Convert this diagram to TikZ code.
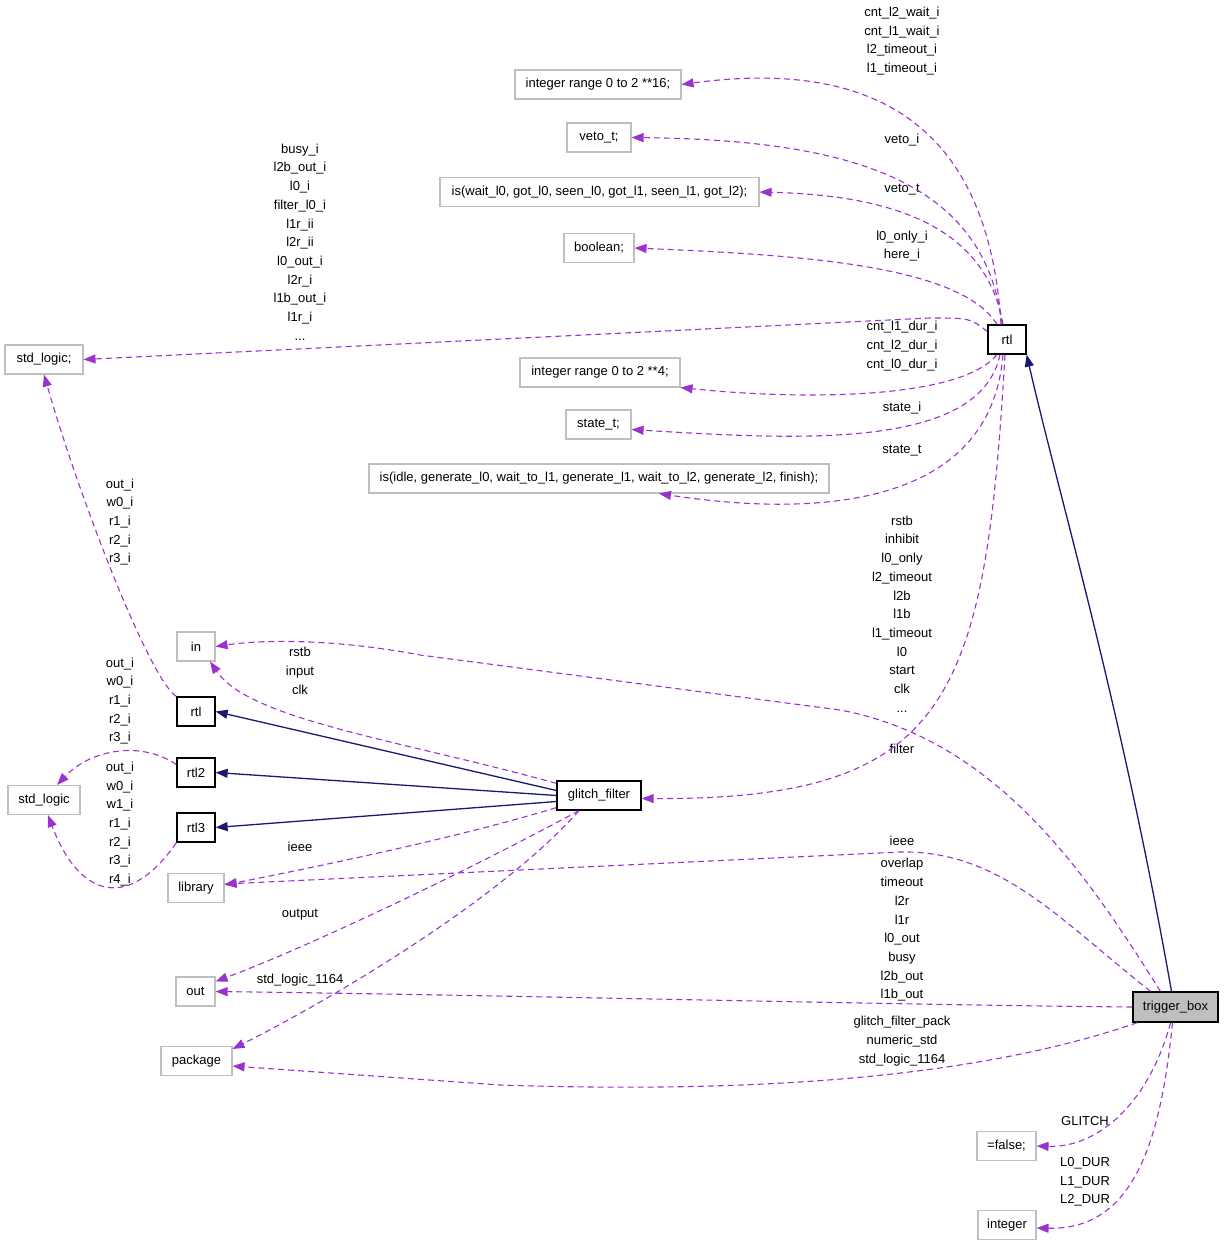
\documentclass[tikz,border=0pt]{standalone}
\usepackage{fontspec}
\setmainfont{Liberation Sans}
\usetikzlibrary{arrows.meta,calc}
\definecolor{dep}{HTML}{9A32CD}
\definecolor{inh}{HTML}{191970}
\definecolor{bx}{HTML}{BFBFBF}
\begin{document}
\begin{tikzpicture}[x=1pt,y=-1pt,
  every node/.style={font=\fontsize{13}{18.7}\selectfont},
  tbox/.style={draw=bx,line width=1.1pt,inner sep=0pt,minimum height=29pt},
  kbox/.style={draw=black,line width=1.3pt,inner sep=0pt,minimum height=29pt},
  lab/.style={align=center,inner sep=0pt},
  uses/.style={draw=dep,dash pattern=on 6pt off 4pt,line width=1.1pt,-{Triangle[length=12pt,width=9pt]}},
  isa/.style={draw=inh,line width=1.3pt,-{Triangle[length=12pt,width=9pt]}}]
\useasboundingbox (0,0) rectangle (1224,1247);
% nodes
\node[tbox,minimum width=166pt] (ir16) at (598,84.5) {integer range 0 to 2 **16;};
\node[tbox,minimum width=64pt] (veto) at (599,137.5) {veto\_t;};
\node[tbox,minimum width=319pt] (iswait) at (599.5,192) {is(wait\_l0, got\_l0, seen\_l0, got\_l1, seen\_l1, got\_l2);};
\node[tbox,minimum width=70pt] (bool) at (599,248) {boolean;};
\node[tbox,minimum width=78pt] (slA) at (44,359.5) {std\_logic;};
\node[kbox,minimum width=38pt] (rtlT) at (1007,339.5) {rtl};
\node[tbox,minimum width=160pt] (ir4) at (600,372.5) {integer range 0 to 2 **4;};
\node[tbox,minimum width=65pt] (state) at (598.5,424.5) {state\_t;};
\node[tbox,minimum width=460pt] (isidle) at (599,478.5) {is(idle, generate\_l0, wait\_to\_l1, generate\_l1, wait\_to\_l2, generate\_l2, finish);};
\node[tbox,minimum width=38pt] (in) at (196,646.5) {in};
\node[kbox,minimum width=38pt] (rtlL) at (196,711.5) {rtl};
\node[kbox,minimum width=38pt] (rtl2) at (196,772.5) {rtl2};
\node[kbox,minimum width=38pt] (rtl3) at (196,827.5) {rtl3};
\node[tbox,minimum width=72pt] (slB) at (44,800) {std\_logic};
\node[kbox,minimum width=84pt] (gf) at (599,795.5) {glitch\_filter};
\node[tbox,minimum width=56pt] (lib) at (196,888) {library};
\node[tbox,minimum width=39pt] (out) at (195.5,991.5) {out};
\node[tbox,minimum width=71pt] (pkg) at (196.5,1061) {package};
\node[draw=black,fill=bx,line width=1.3pt,inner sep=0pt,minimum height=30pt,minimum width=85pt] (tb) at (1175.5,1007) {trigger\_box};
\node[tbox,minimum width=59pt] (false) at (1006.5,1146) {=false;};
\node[tbox,minimum width=58pt] (int) at (1007,1225) {integer};
% labels
\node[lab] (L1) at (902,41) {cnt\_l2\_wait\_i\\cnt\_l1\_wait\_i\\l2\_timeout\_i\\l1\_timeout\_i};
\node[lab] (L2) at (902,140) {veto\_i};
\node[lab] (L3) at (902,190) {veto\_t};
\node[lab] (L4) at (902,246) {l0\_only\_i\\here\_i};
\node[lab] (L5) at (300,242) {busy\_i\\l2b\_out\_i\\l0\_i\\filter\_l0\_i\\l1r\_ii\\l2r\_ii\\l0\_out\_i\\l2r\_i\\l1b\_out\_i\\l1r\_i\\...};
\node[lab] (L6) at (902,346) {cnt\_l1\_dur\_i\\cnt\_l2\_dur\_i\\cnt\_l0\_dur\_i};
\node[lab] (L7) at (902,408) {state\_i};
\node[lab] (L8) at (902,451) {state\_t};
\node[lab] (L9) at (902,614) {rstb\\inhibit\\l0\_only\\l2\_timeout\\l2b\\l1b\\l1\_timeout\\l0\\start\\clk\\...};
\node[lab] (L10) at (902,749) {filter};
\node[lab] (L11) at (300,671) {rstb\\input\\clk};
\node[lab] (L12) at (120,522) {out\_i\\w0\_i\\r1\_i\\r2\_i\\r3\_i};
\node[lab] (L13) at (120,701) {out\_i\\w0\_i\\r1\_i\\r2\_i\\r3\_i};
\node[lab] (L14) at (120,824) {out\_i\\w0\_i\\w1\_i\\r1\_i\\r2\_i\\r3\_i\\r4\_i};
\node[lab] (L15) at (300,847) {ieee};
\node[lab] (L16) at (300,915) {output};
\node[lab] (L17) at (300,980) {std\_logic\_1164};
\node[lab] (L18) at (902,841) {ieee};
\node[lab] (L19) at (902,930) {overlap\\timeout\\l2r\\l1r\\l0\_out\\busy\\l2b\_out\\l1b\_out};
\node[lab] (L20) at (902,1041) {glitch\_filter\_pack\\numeric\_std\\std\_logic\_1164};
\node[lab] (L21) at (1085,1121) {GLITCH};
\node[lab] (L22) at (1085,1182) {L0\_DUR\\L1\_DUR\\L2\_DUR};
% edges from rtl (top)
\draw[uses] ($(rtlT.north)+(-6,0)$) .. controls (990,150) and (900,55) .. (ir16.east);
\draw[uses] ($(rtlT.north)+(-5,0)$) .. controls (985,180) and (850,140) .. (veto.east);
\draw[uses] ($(rtlT.north)+(-4,0)$) .. controls (985,220) and (880,195) .. (iswait.east);
\draw[uses] ($(rtlT.north)+(-10,0)$) .. controls (960,265) and (800,255) .. (bool.east);
\draw[uses] ($(rtlT.west)+(0,-8)$) .. controls (970,318) .. (930,318) -- (slA.east);
\draw[uses] ($(rtlT.south)+(-10,0)$) .. controls (960,400) and (800,400) .. ($(ir4.south east)+(0,0)$);
\draw[uses] ($(rtlT.south)+(-7,0)$) .. controls (980,450) and (800,440) .. ($(state.east)+(0,5)$);
\draw[uses] ($(rtlT.south)+(-4,0)$) .. controls (990,515) and (800,515) .. ($(isidle.south)+(60,0)$);
\draw[uses] ($(rtlT.south)+(-2,0)$) .. controls (985,700) and (950,800) .. ($(gf.east)+(0,3)$);
% trigger_box edges
\draw[isa] ($(tb.north)+(-4,0)$) .. controls (1120,700) and (1060,500) .. (rtlT.south east);
\draw[uses] ($(tb.north)+(-15,0)$) .. controls (1090,880) and (1000,740) .. (840,710) -- (420,655) .. controls (330,638) and (260,640) .. (in.east);
\draw[uses] ($(tb.north)+(-25,0)$) .. controls (1060,920) and (1000,850) .. (900,852) -- ($(lib.east)+(0,-4)$);
\draw[uses] (tb.west) .. controls (900,1005) and (500,995) .. (out.east);
\draw[uses] ($(tb.south west)+(5,0)$) .. controls (1000,1070) and (800,1095) .. (500,1085) -- ($(pkg.east)+(0,5)$);
\draw[uses] ($(tb.south)+(-5,0)$) .. controls (1150,1100) and (1100,1148) .. (false.east);
\draw[uses] ($(tb.south)+(-3,0)$) .. controls (1160,1150) and (1130,1230) .. ($(int.east)+(0,3)$);
% glitch_filter edges
\draw[isa] ($(gf.west)+(0,-5)$) -- (rtlL.east);
\draw[isa] (gf.west) -- (rtl2.east);
\draw[isa] ($(gf.west)+(0,6)$) -- (rtl3.east);
\draw[uses] ($(gf.north west)+(0,3)$) .. controls (400,740) and (250,720) .. ($(in.south)+(14,0)$);
\draw[uses] ($(gf.south west)+(0,-3)$) .. controls (450,840) and (300,870) .. ($(lib.east)+(0,-3)$);
\draw[uses] ($(gf.south)+(-20,0)$) .. controls (450,880) and (300,950) .. ($(out.north east)+(0,5)$);
\draw[uses] ($(gf.south)+(-20,0)$) .. controls (500,900) and (330,1000) .. ($(pkg.north east)+(0,3)$);
% rtl variants to std_logic
\draw[uses] (rtlL.north west) .. controls (150,680) and (80,500) .. (slA.south);
\draw[uses] ($(rtl2.west)+(0,-8)$) .. controls (140,740) and (90,750) .. ($(slB.north)+(13,0)$);
\draw[uses] (rtl3.south west) .. controls (130,910) and (80,900) .. ($(slB.south)+(4,0)$);
\end{tikzpicture}
\end{document}
